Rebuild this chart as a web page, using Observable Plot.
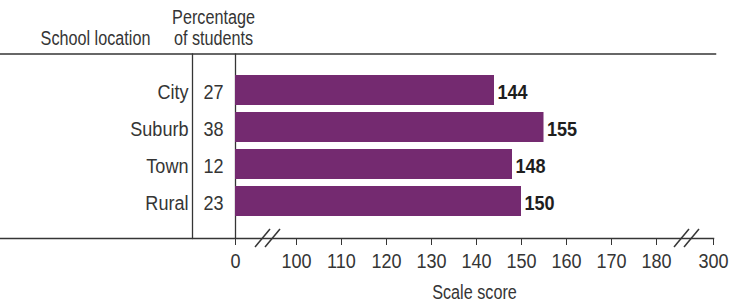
<!DOCTYPE html>
<html>
<head>
<meta charset="utf-8">
<script src="https://cdn.jsdelivr.net/npm/d3@7"></script>
<script src="https://cdn.jsdelivr.net/npm/@observablehq/plot@0.6"></script>
<style>
  html, body { margin: 0; padding: 0; background: #fff; }
  #chart svg { display: block; }
</style>
</head>
<body>
<div id="chart"></div>
<script>
const locations = ["City", "Suburb", "Town", "Rural"];
const percentages = [27, 38, 12, 23];
const scores = [144, 155, 148, 150];
const tickValues = [0, 100, 110, 120, 130, 140, 150, 160, 170, 180, 300];
const axisBreaks = [50, 240];

const data = locations.map((loc, i) => ({loc, pct: percentages[i], score: scores[i]}));

const font = "'Liberation Sans', Arial, sans-serif";
const ink = "#353535";

const chart = Plot.plot({
  width: 731,
  height: 307,
  marginTop: 53.5,
  marginBottom: 69,
  marginLeft: 235,
  marginRight: 18,
  style: {fontFamily: font, color: ink, background: "#fff", overflow: "visible"},
  x: {type: "linear", domain: [0, 100, 180, 300], range: [235, 296, 656, 713], axis: null},
  y: {type: "band", domain: locations, range: [67.4, 224.4], padding: 0.176, axis: null},
  marks: [
    Plot.frame({anchor: "top", insetLeft: -235, insetRight: -2, stroke: ink, strokeWidth: 1.5}),
    Plot.frame({anchor: "bottom", insetLeft: -235, stroke: ink, strokeWidth: 1.5}),
    Plot.frame({anchor: "left", insetLeft: -43, stroke: ink, strokeWidth: 1.3}),
    Plot.ruleX([0], {stroke: ink, strokeWidth: 1.3}),
    Plot.barX(data, {x: "score", y: "loc", fill: "#742a70"}),
    Plot.text(data, {x: "score", y: "loc", text: d => String(d.score), textAnchor: "start", dx: 3, dy: 1.5, fontSize: 21, fontWeight: "bold", fill: "#1e1e1e"}),
    Plot.axisY({anchor: "left", tickSize: 0, tickPadding: 47, fontSize: 21, dy: 1.5, label: null, fill: ink}),
    Plot.text(data, {y: "loc", text: d => String(d.pct), frameAnchor: "left", textAnchor: "middle", lineAnchor: "middle", dx: -22, dy: 1.5, fontSize: 21, fill: ink}),
    Plot.axisX({anchor: "bottom", ticks: tickValues, tickFormat: d => String(d), tickSize: 7, tickPadding: 8, fontSize: 21, label: null, stroke: ink, fill: ink}),
    Plot.text(["Scale score"], {text: d => d, frameAnchor: "bottom", textAnchor: "middle", lineAnchor: "middle", dy: 54, fontSize: 20, fill: ink}),
    Plot.text(["School location"], {text: d => d, frameAnchor: "top-left", textAnchor: "middle", lineAnchor: "middle", dx: -140, dy: -15, fontSize: 20, fill: ink}),
    Plot.text(["Percentage"], {text: d => d, frameAnchor: "top-left", textAnchor: "middle", lineAnchor: "middle", dx: -22, dy: -36, fontSize: 20, fill: ink}),
    Plot.text(["of students"], {text: d => d, frameAnchor: "top-left", textAnchor: "middle", lineAnchor: "middle", dx: -22, dy: -15, fontSize: 20, fill: ink}),
    (index, scales, values, dimensions) => {
      const g = d3.create("svg:g").attr("stroke", ink).attr("stroke-width", 1.5).attr("fill", "none");
      const y0 = dimensions.height - dimensions.marginBottom;
      for (const b of axisBreaks) {
        const cx = scales.x(b) + 2;
        for (const o of [-5, 5]) {
          g.append("line")
            .attr("x1", cx + o - 7.5).attr("y1", y0 + 9)
            .attr("x2", cx + o + 7.5).attr("y2", y0 - 9);
        }
      }
      return g.node();
    }
  ]
});

// Condense glyphs horizontally (narrow gothic look) around each text's own anchor.
chart.querySelectorAll("text").forEach(t => {
  const holder = t.closest("[font-size]");
  const size = holder ? parseFloat(holder.getAttribute("font-size")) : 21;
  const k = size <= 20 ? 0.81 : 0.86;
  let tr = t.getAttribute("transform") || "";
  const xa = t.getAttribute("x");
  if (xa !== null && isFinite(+xa)) {
    tr += ` translate(${+xa},0)`;
    t.removeAttribute("x");
  }
  t.setAttribute("transform", `${tr} scale(${k},1)`);
});

document.getElementById("chart").appendChild(chart);
</script>
</body>
</html>
